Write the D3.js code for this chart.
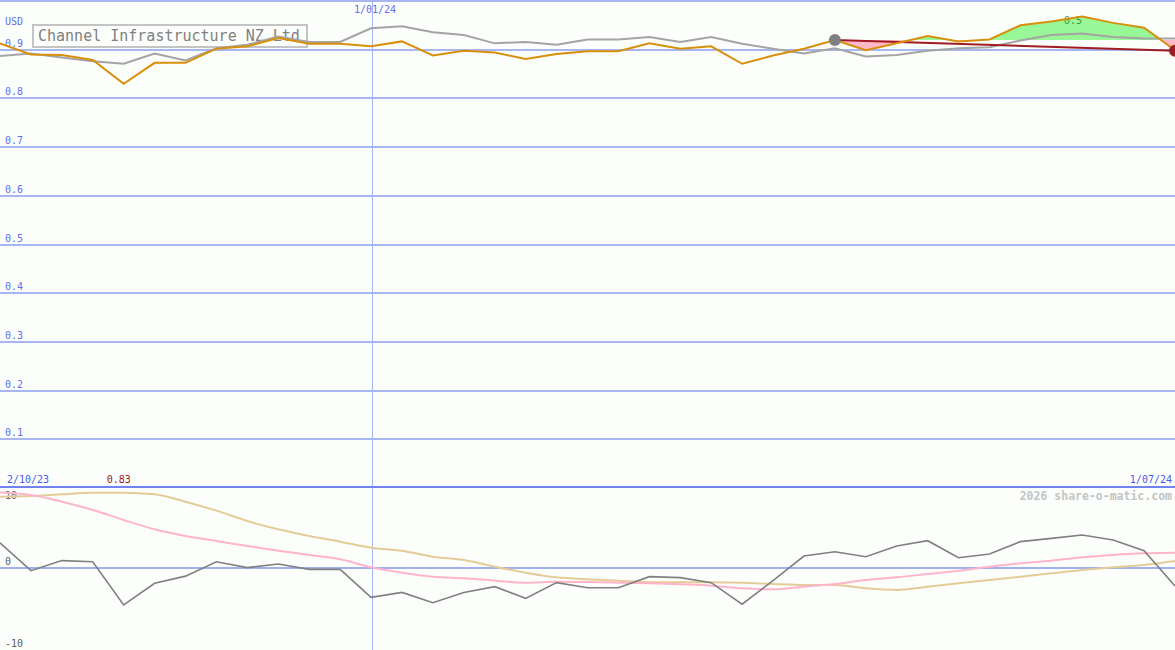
<!DOCTYPE html>
<html>
<head>
<meta charset="utf-8">
<script src="https://cdn.jsdelivr.net/npm/d3@7"></script>
<style>
  body { margin: 0; background: #fcfefc; }
  svg { display: block; }
</style>
</head>
<body>
<script>
const width = 1175;
const height = 650;

// weekly closes, Oct 2023 - Jul 2024
const dates = [
  '2023-10-09','2023-10-16','2023-10-23','2023-10-30','2023-11-06','2023-11-13','2023-11-20','2023-11-27',
  '2023-12-04','2023-12-11','2023-12-18','2023-12-25','2024-01-01','2024-01-08','2024-01-15','2024-01-22',
  '2024-01-29','2024-02-05','2024-02-12','2024-02-19','2024-02-26','2024-03-04','2024-03-11','2024-03-18',
  '2024-03-25','2024-04-01','2024-04-08','2024-04-15','2024-04-22','2024-04-29','2024-05-06','2024-05-13',
  '2024-05-20','2024-05-27','2024-06-03','2024-06-10','2024-06-17','2024-06-24','2024-07-01'
];
const closes = [
  0.911, 0.888, 0.887, 0.877, 0.828, 0.871, 0.871, 0.900, 0.905, 0.922, 0.910, 0.910, 0.905,
  0.915, 0.886, 0.896, 0.892, 0.879, 0.889, 0.895, 0.895, 0.911, 0.900, 0.905, 0.869, 0.886,
  0.900, 0.918, 0.897, 0.911, 0.926, 0.915, 0.919, 0.948, 0.956, 0.966, 0.953, 0.943, 0.897
];
const average = [
  0.885, 0.890, 0.882, 0.874, 0.869, 0.890, 0.876, 0.901, 0.908, 0.925, 0.914, 0.914, 0.942,
  0.946, 0.934, 0.928, 0.911, 0.914, 0.908, 0.919, 0.919, 0.924, 0.914, 0.924, 0.910, 0.900,
  0.890, 0.901, 0.884, 0.887, 0.896, 0.901, 0.903, 0.917, 0.928, 0.931, 0.924, 0.921, 0.921
];
// lower panel indicators
const momentum = [
  3.4, -0.36, 1.0, 0.85, -5.0, -2.07, -1.1, 0.85, 0.05, 0.54, -0.18, -0.18, -3.96,
  -3.3, -4.69, -3.3, -2.52, -4.1, -1.98, -2.66, -2.66, -1.17, -1.3, -1.98, -4.9, -1.7,
  1.62, 2.2, 1.53, 2.97, 3.69, 1.39, 1.89, 3.56, 4.0, 4.46, 3.78, 2.34, -2.43
];
const fastAvg = [
  10.2, 9.86, 8.96, 7.84, 6.49, 5.23, 4.32, 3.65, 2.97, 2.34, 1.76, 1.17, 0.09,
  -0.63, -1.17, -1.4, -1.71, -1.98, -1.85, -1.9, -1.98, -2.07, -2.21, -2.39, -2.75, -2.88,
  -2.52, -2.16, -1.62, -1.26, -0.81, -0.36, 0.18, 0.63, 0.99, 1.44, 1.76, 1.98, 2.07
];
const slowAvg = [
  9.64, 9.73, 9.96, 10.18, 10.18, 9.96, 8.96, 7.75, 6.35, 5.23, 4.32, 3.56, 2.75,
  2.34, 1.53, 1.08, 0.18, -0.63, -1.26, -1.53, -1.71, -1.93, -1.93, -1.93, -1.98, -2.16,
  -2.3, -2.3, -2.75, -2.97, -2.52, -2.07, -1.62, -1.17, -0.72, -0.27, 0.09, 0.41, 0.95
];

const priceTicks = [0.1, 0.2, 0.3, 0.4, 0.5, 0.6, 0.7, 0.8, 0.9, 1.0];
const priceTickLabels = ['0.1','0.2','0.3','0.4','0.5','0.6','0.7','0.8','0.9',''];
const lowerTicks = [10, 0, -10];
const buyIndex = 27;
const sellIndex = 38;
const trendEnds = [0.918, 0.896];
const lowLabel = '0.83';
const gainLabel = '0.5';
const title = 'Channel Infrastructure NZ Ltd';

const parse = d3.timeParse('%Y-%m-%d');
const data = dates.map((d, i) => ({
  date: parse(d), close: closes[i], avg: average[i],
  mom: momentum[i], fast: fastAvg[i], slow: slowAvg[i]
}));

const x = d3.scaleTime()
  .domain([data[0].date, data[data.length - 1].date])
  .range([0, width]);
const y = d3.scaleLinear().domain([0, 1]).range([487, 0]);
const y2 = d3.scaleLinear().domain([-10, 10]).range([642, 494]);

const svg = d3.create('svg')
  .attr('width', width)
  .attr('height', height)
  .style('background-color', '#fcfefc')
  .style('font-family', 'DejaVu Sans Mono, monospace');
document.body.appendChild(svg.node());

const defs = svg.append('defs');
defs.append('clipPath').attr('id', 'topClip')
  .append('rect').attr('x', 0).attr('y', 0).attr('width', width).attr('height', 487);
defs.append('clipPath').attr('id', 'bottomClip')
  .append('rect').attr('x', 0).attr('y', 488).attr('width', width).attr('height', height - 488);

// grid
svg.append('g')
  .selectAll('line')
  .data(priceTicks)
  .join('line')
    .attr('x1', 0).attr('x2', width)
    .attr('y1', d => Math.round(y(d)) + 0.5).attr('y2', d => Math.round(y(d)) + 0.5)
    .attr('stroke', '#a8b6f2').attr('stroke-width', 2)
    .attr('shape-rendering', 'crispEdges');

svg.append('line')
  .attr('x1', 0).attr('x2', width)
  .attr('y1', y2(0)).attr('y2', y2(0))
  .attr('stroke', '#a0b0f0').attr('stroke-width', 2)
  .attr('shape-rendering', 'crispEdges');

const janX = Math.round(x(parse('2024-01-01'))) + 1;
svg.append('line')
  .attr('x1', janX + 0.5).attr('x2', janX + 0.5)
  .attr('y1', 0).attr('y2', height)
  .attr('stroke', '#a4b4f8').attr('stroke-width', 1)
  .attr('shape-rendering', 'crispEdges');

svg.append('line')
  .attr('x1', 0).attr('x2', width)
  .attr('y1', 487).attr('y2', 487)
  .attr('stroke', '#7282f0').attr('stroke-width', 2)
  .attr('shape-rendering', 'crispEdges');

// title box
svg.append('rect')
  .attr('x', 33).attr('y', 25).attr('width', 274).attr('height', 22)
  .attr('fill', '#fcfefc').attr('stroke', '#c4c4c4').attr('stroke-width', 2);
svg.append('text')
  .attr('x', 38).attr('y', 41)
  .attr('font-size', 15).attr('fill', '#808080')
  .text(title);

// tick labels
svg.append('g')
  .selectAll('text')
  .data(priceTicks)
  .join('text')
    .attr('x', 5).attr('y', d => y(d) - 2)
    .attr('font-size', 10).attr('fill', '#5f6ff0')
    .text((d, i) => priceTickLabels[i]);
svg.append('text').attr('x', 5).attr('y', 25)
  .attr('font-size', 10).attr('fill', '#5f6ff0').text('USD');

svg.append('g')
  .selectAll('text')
  .data(lowerTicks)
  .join('text')
    .attr('x', 5).attr('y', d => d === 0 ? y2(d) - 3 : y2(d) + 5)
    .attr('font-size', 10).attr('fill', '#606060')
    .text(d => d);

svg.append('text').attr('x', janX + 3).attr('y', 13)
  .attr('text-anchor', 'middle').attr('font-size', 10).attr('fill', '#5f6ff0')
  .text('1/01/24');
svg.append('text').attr('x', 7).attr('y', 483)
  .attr('font-size', 10).attr('fill', '#4a5af0').text('2/10/23');
svg.append('text').attr('x', x(data[4].date) - 5).attr('y', 483)
  .attr('text-anchor', 'middle').attr('font-size', 10).attr('fill', '#a01818').text(lowLabel);
svg.append('text').attr('x', width - 3).attr('y', 483)
  .attr('text-anchor', 'end').attr('font-size', 10).attr('fill', '#4a5af0').text('1/07/24');
svg.append('text').attr('x', width - 3).attr('y', 500)
  .attr('text-anchor', 'end').attr('font-size', 11.5).attr('font-weight', 'bold')
  .attr('fill', '#c4c4c4').text('2026 share-o-matic.com');

// holding period fill against buy price
const held = data.slice(buyIndex, sellIndex + 1);
const base = closes[buyIndex];
const holdArea = d3.area()
  .x(d => x(d.date))
  .y0(y(base))
  .y1(d => y(d.close));
defs.append('clipPath').attr('id', 'aboveClip')
  .append('rect').attr('x', 0).attr('y', 0).attr('width', width).attr('height', y(base));
defs.append('clipPath').attr('id', 'belowClip')
  .append('rect').attr('x', 0).attr('y', y(base)).attr('width', width).attr('height', 487 - y(base));

svg.append('path').datum(held)
  .attr('d', holdArea).attr('fill', '#98f898')
  .attr('clip-path', 'url(#aboveClip)');
svg.append('path').datum(held)
  .attr('d', holdArea).attr('fill', '#ffb8c8')
  .attr('clip-path', 'url(#belowClip)');

svg.append('text').attr('x', 1073).attr('y', 24)
  .attr('text-anchor', 'middle').attr('font-size', 10).attr('fill', '#3c963c')
  .text(gainLabel);

// price lines
const topG = svg.append('g').attr('clip-path', 'url(#topClip)');
topG.append('path').datum(data)
  .attr('d', d3.line().x(d => x(d.date)).y(d => y(d.avg)))
  .attr('fill', 'none').attr('stroke', '#a4a4a4').attr('stroke-width', 2);

topG.append('path')
  .datum([{ date: data[buyIndex].date, v: trendEnds[0] }, { date: data[sellIndex].date, v: trendEnds[1] }])
  .attr('d', d3.line().x(d => x(d.date)).y(d => y(d.v)))
  .attr('fill', 'none').attr('stroke', '#a01c22').attr('stroke-width', 2);

topG.append('path').datum(data)
  .attr('d', d3.line().x(d => x(d.date)).y(d => y(d.close)))
  .attr('fill', 'none').attr('stroke', '#d8900c').attr('stroke-width', 2);

topG.append('circle')
  .attr('cx', x(data[buyIndex].date)).attr('cy', y(trendEnds[0])).attr('r', 6)
  .attr('fill', '#808080');
topG.append('circle')
  .attr('cx', x(data[sellIndex].date)).attr('cy', y(trendEnds[1])).attr('r', 6)
  .attr('fill', '#a01c22');

// lower panel
const bottomG = svg.append('g').attr('clip-path', 'url(#bottomClip)');
bottomG.append('path').datum(data)
  .attr('d', d3.line().curve(d3.curveMonotoneX).x(d => x(d.date)).y(d => y2(d.slow)))
  .attr('fill', 'none').attr('stroke', '#e4cc98').attr('stroke-width', 2);
bottomG.append('path').datum(data)
  .attr('d', d3.line().curve(d3.curveMonotoneX).x(d => x(d.date)).y(d => y2(d.fast)))
  .attr('fill', 'none').attr('stroke', '#ffb4cc').attr('stroke-width', 2);
bottomG.append('path').datum(data)
  .attr('d', d3.line().x(d => x(d.date)).y(d => y2(d.mom)))
  .attr('fill', 'none').attr('stroke', '#808080').attr('stroke-width', 1.6);
</script>
</body>
</html>
